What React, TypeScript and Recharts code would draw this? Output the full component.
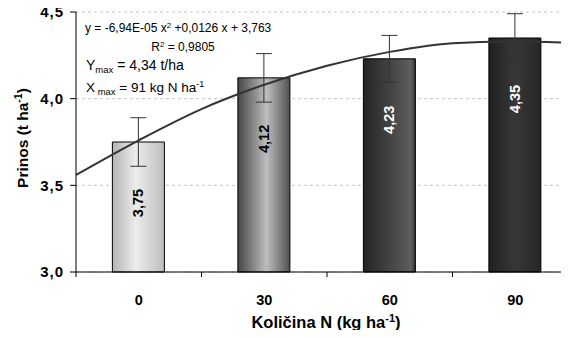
import React from "react";
import { ComposedChart, Bar, Line, XAxis, YAxis, CartesianGrid, ErrorBar, Cell, LabelList } from "recharts";

const CATEGORIES = [0, 30, 60, 90];
const YIELD = [3.75, 4.12, 4.23, 4.35];
const ERRORS = [0.14, 0.14, 0.135, 0.14];
const TREND_X = [-15, 0, 15, 30, 45, 60, 75, 90, 105];
const TREND_Y = [3.56, 3.76, 3.94, 4.08, 4.19, 4.27, 4.32, 4.33, 4.32];
const Y_TICKS = [3, 3.5, 4, 4.5];
const X_TICKS = [-15, 0, 15, 30, 45, 60, 75, 90, 105];

const FONT = "'Liberation Sans', Arial, sans-serif";

// cylinder-like shading per bar
const GRADIENTS = [
  [["0%", "#b4b4b4"], ["45%", "#ececec"], ["100%", "#bdbdbd"]],
  [["0%", "#464646"], ["55%", "#bebebe"], ["100%", "#505050"]],
  [["0%", "#232323"], ["65%", "#4c4c4c"], ["92%", "#5e5e5e"], ["100%", "#2e2e2e"]],
  [["0%", "#202020"], ["50%", "#373737"], ["100%", "#262626"]],
];
const LABEL_FILL = ["#000", "#000", "#fff", "#fff"];

const barData = CATEGORIES.map((x, i) => ({ x, y: YIELD[i], err: ERRORS[i] }));
const trendData = TREND_X.map((x, i) => ({ x, t: TREND_Y[i] }));

const comma = (v: number, d: number) => v.toFixed(d).replace(".", ",");

function XTick(props: any) {
  const { x, y, payload } = props;
  const v = payload.value;
  if (CATEGORIES.includes(v)) {
    return (
      <text x={x} y={y + 33} textAnchor="middle" fontFamily={FONT} fontWeight="bold" fontSize={14.5} fill="#000">
        {v}
      </text>
    );
  }
  return <line x1={x} x2={x} y1={y} y2={y + 5} stroke="#000" strokeWidth={1} />;
}

function BarLabel(props: any) {
  const { x, y, width, value, index } = props;
  const cx = x + width / 2;
  const cy = y + 61;
  return (
    <text
      x={cx}
      y={cy}
      transform={`rotate(-90, ${cx}, ${cy})`}
      textAnchor="middle"
      dominantBaseline="central"
      fontFamily={FONT}
      fontWeight="bold"
      fontSize={14.5}
      fill={LABEL_FILL[index]}
    >
      {comma(value, 2)}
    </text>
  );
}

export default function App() {
  return (
    <div style={{ position: "relative", width: 569, height: 338, overflow: "hidden", margin: -8, background: "#fff" }}>
      <ComposedChart width={592} height={338} data={barData} margin={{ top: 12, right: 14, left: 0, bottom: 26 }}>
        <defs>
          {GRADIENTS.map((stops, i) => (
            <linearGradient key={i} id={`g${i}`} x1="0" y1="0" x2="1" y2="0">
              {stops.map(([o, c]) => (
                <stop key={o} offset={o} stopColor={c} />
              ))}
            </linearGradient>
          ))}
        </defs>
        <CartesianGrid vertical={false} stroke="#c4c4c4" strokeDasharray="3 3" />
        <XAxis
          dataKey="x"
          type="number"
          domain={[-15, 105]}
          ticks={X_TICKS}
          interval={0}
          tickSize={0}
          tickMargin={0}
          tick={<XTick />}
          height={40}
          axisLine={{ stroke: "#000", strokeWidth: 1 }}
        />
        <YAxis
          type="number"
          domain={[3, 4.5]}
          ticks={Y_TICKS}
          width={76}
          tickSize={6}
          tickMargin={6}
          tickFormatter={(v: number) => comma(v, 1)}
          tick={{ fontFamily: FONT, fontWeight: "bold", fontSize: 15, fill: "#000", letterSpacing: 1 }}
          tickLine={{ stroke: "#000" }}
          axisLine={{ stroke: "#000", strokeWidth: 1 }}
        />
        <Bar dataKey="y" barSize={52} stroke="#000" strokeWidth={1} isAnimationActive={false}>
          {barData.map((_, i) => (
            <Cell key={i} fill={`url(#g${i})`} />
          ))}
          <ErrorBar dataKey="err" width={8} stroke="#333" strokeWidth={1} direction="y" />
          <LabelList dataKey="y" content={<BarLabel />} />
        </Bar>
        <Line
          data={trendData}
          dataKey="t"
          type="monotone"
          stroke="#333"
          strokeWidth={2}
          dot={false}
          activeDot={false}
          isAnimationActive={false}
        />
      </ComposedChart>
      <svg width={569} height={338} style={{ position: "absolute", left: 0, top: 0, pointerEvents: "none" }} fontFamily={FONT}>
        <text x={85} y={32} fontSize={12} fill="#000">
          y = -6,94E-05 x<tspan dy={-4} fontSize={8}>2</tspan>
          <tspan dy={4}> +0,0126 x + 3,763</tspan>
        </text>
        <text x={183} y={51} fontSize={12} fill="#000" textAnchor="middle">
          R<tspan dy={-4} fontSize={8}>2</tspan>
          <tspan dy={4}> = 0,9805</tspan>
        </text>
        <text x={86} y={70} fontSize={14} fill="#000">
          Y<tspan dy={3} fontSize={9.5}>max</tspan>
          <tspan dy={-3}> = 4,34 t/ha</tspan>
        </text>
        <text x={86} y={92} fontSize={13.5} fill="#000">
          X<tspan dy={3} fontSize={9.5}> max</tspan>
          <tspan dy={-3}> = 91 kg N ha</tspan>
          <tspan dy={-5} fontSize={9}>-1</tspan>
        </text>
        <text
          x={28}
          y={138}
          transform="rotate(-90, 28, 138)"
          textAnchor="middle"
          fontSize={15.5}
          fontWeight="bold"
          fill="#000"
        >
          Prinos (t ha<tspan dy={-6} fontSize={10.5}>-1</tspan>
          <tspan dy={6}>)</tspan>
        </text>
        <text x={326} y={328} textAnchor="middle" fontSize={16.5} fontWeight="bold" fill="#000">
          Količina N (kg ha<tspan dy={-6} fontSize={11}>-1</tspan>
          <tspan dy={6}>)</tspan>
        </text>
      </svg>
    </div>
  );
}
